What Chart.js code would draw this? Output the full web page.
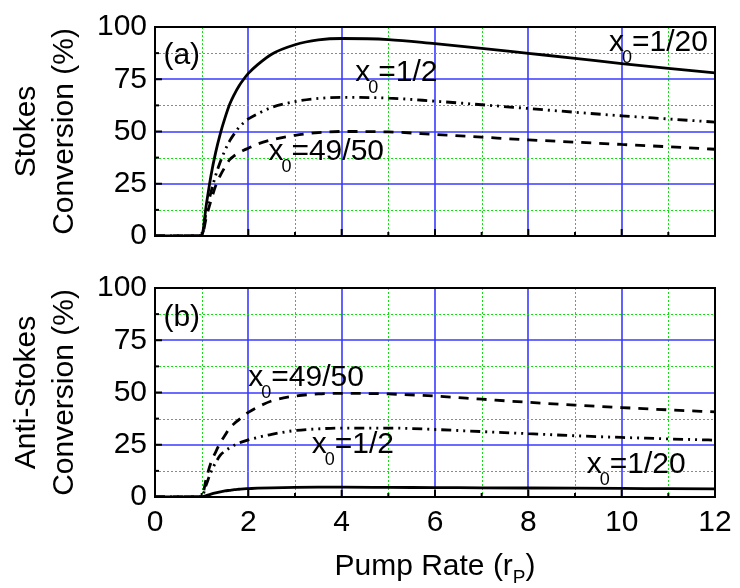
<!DOCTYPE html>
<html>
<head>
<meta charset="utf-8">
<script src="https://cdn.jsdelivr.net/npm/chart.js@4/dist/chart.umd.min.js"></script>
<style>
	html, body { margin: 0; padding: 0; background: #fff; }
	#wrap { position: relative; width: 740px; height: 588px; }
	#wrap canvas { position: absolute; left: 0; }
</style>
</head>
<body>
<div id="wrap">
	<canvas id="stokes" width="740" height="262" style="top:0"></canvas>
	<canvas id="anti" width="740" height="326" style="top:262px"></canvas>
</div>
<script>
// pump rate (x axis), shared by every curve
const pumpRate = [0, 1, 1.1, 1.2, 1.3, 1.4, 1.5, 1.6, 1.7, 1.8, 1.9, 2, 2.2, 2.5, 3, 3.5, 4, 5, 6, 7, 8, 9, 10, 11, 12];

// (a) Stokes conversion (%)
const stokes_1_20 = [0, 0, 15, 29, 40, 49, 56.5, 63, 67.8, 71.8, 75, 77.8, 82, 87, 91.5, 93.8, 94.5, 94, 92, 89.8, 87.4, 85, 82.5, 80.2, 78];
const stokes_1_2 = [0, 0, 12, 21, 29, 35.5, 41, 45.5, 49, 52, 54.2, 56, 58.5, 61.5, 64.3, 65.8, 66.3, 66, 64.5, 62.8, 61, 59.2, 57.5, 56, 54.5];
const stokes_49_50 = [0, 0, 9, 17, 24, 29, 33, 36.5, 38.4, 39.8, 41, 42, 44, 46, 48.2, 49.5, 50, 49.8, 48.6, 47.3, 46, 44.9, 43.8, 42.7, 41.5];

// (b) Anti-Stokes conversion (%)
const anti_1_20 = [0, 0, 0.7, 1.4, 2, 2.5, 2.9, 3.2, 3.5, 3.7, 3.9, 4, 4.2, 4.4, 4.6, 4.7, 4.7, 4.6, 4.5, 4.4, 4.3, 4.2, 4.1, 4, 3.9];
const anti_1_2 = [0, 0, 6, 12, 16.5, 20, 22, 23.5, 24.8, 25.8, 26.6, 27.3, 28.5, 30, 31.8, 32.6, 33, 33, 32.3, 31.3, 30.3, 29.3, 28.5, 27.8, 27.2];
const anti_49_50 = [0, 0, 9, 16.5, 21.5, 26, 29.5, 33, 35.2, 37, 38.9, 40.5, 43, 46, 48.3, 49.3, 49.6, 49.3, 48.3, 46.8, 45.3, 44, 42.8, 41.7, 40.7];

// curve annotations, anchored in data units (x, y = baseline)
const stokesNotes = [
	{ pre: '(a)', x: 0.18, y: 82.5 },
	{ pre: 'x', sub: '0', post: '=1/2', x: 4.29, y: 74 },
	{ pre: 'x', sub: '0', post: '=49/50', x: 2.43, y: 36.3 },
	{ pre: 'x', sub: '0', post: '=1/20', x: 9.73, y: 88.5 },
];
const antiNotes = [
	{ pre: '(b)', x: 0.18, y: 81.8 },
	{ pre: 'x', sub: '0', post: '=49/50', x: 2.0, y: 53 },
	{ pre: 'x', sub: '0', post: '=1/2', x: 3.36, y: 21.2 },
	{ pre: 'x', sub: '0', post: '=1/20', x: 9.25, y: 11.4 },
];

const FONT = "'Liberation Sans', Arial, sans-serif";
const BLUE = '#3a3aff';
const GREEN = '#10e010';

const toPoints = (ys) => pumpRate.map((x, i) => ({ x, y: ys[i] }));

const lineSet = (ys, dash) => ({
	data: toPoints(ys),
	borderColor: '#000',
	borderWidth: 2.8,
	borderDash: dash,
	pointRadius: 0,
	fill: false,
	cubicInterpolationMode: 'monotone',
});

// grid (blue major / green dotted minor), frame, inward ticks, annotations
const framePlugin = {
	id: 'frame',
	beforeDatasetsDraw(chart) {
		const { ctx, chartArea: a, scales } = chart;
		const xs = scales.x, ys = scales.y;
		ctx.save();
		const line = (x1, y1, x2, y2, major) => {
			ctx.strokeStyle = major ? BLUE : GREEN;
			ctx.lineWidth = major ? 1.6 : 1;
			ctx.setLineDash(major ? [] : [2, 2]);
			ctx.beginPath();
			ctx.moveTo(x1, y1);
			ctx.lineTo(x2, y2);
			ctx.stroke();
		};
		xs.ticks.forEach((t) => {
			const major = t.value % 2 === 0;
			const px = Math.round(xs.getPixelForValue(t.value)) + (major ? 0 : 0.5);
			line(px, a.top, px, a.bottom, major);
		});
		ys.ticks.forEach((t) => {
			const major = t.value % 25 === 0;
			const py = Math.round(ys.getPixelForValue(t.value)) + (major ? 0 : 0.5);
			line(a.left, py, a.right, py, major);
		});
		ctx.restore();
	},
	afterDraw(chart, args, opts) {
		const { ctx, chartArea: a, scales } = chart;
		const xs = scales.x, ys = scales.y;
		ctx.save();
		ctx.strokeStyle = '#000';
		ctx.lineWidth = 2;
		ctx.strokeRect(a.left, a.top, a.right - a.left, a.bottom - a.top);

		xs.ticks.forEach((t) => {
			const px = xs.getPixelForValue(t.value);
			const len = t.value % 2 === 0 ? 7 : 4;
			ctx.beginPath();
			ctx.moveTo(px, a.bottom);
			ctx.lineTo(px, a.bottom - len);
			ctx.stroke();
		});
		ys.ticks.forEach((t) => {
			const py = ys.getPixelForValue(t.value);
			const len = t.value % 25 === 0 ? 7 : 4;
			ctx.beginPath();
			ctx.moveTo(a.left, py);
			ctx.lineTo(a.left + len, py);
			ctx.stroke();
		});

		ctx.fillStyle = '#000';
		ctx.textBaseline = 'alphabetic';
		ctx.textAlign = 'left';
		(opts.notes || []).forEach((n) => {
			let px = xs.getPixelForValue(n.x);
			const py = ys.getPixelForValue(n.y);
			ctx.font = '30px ' + FONT;
			ctx.fillText(n.pre, px, py);
			px += ctx.measureText(n.pre).width;
			if (n.sub) {
				ctx.font = '18px ' + FONT;
				ctx.fillText(n.sub, px - 2, py + 12);
				px += ctx.measureText(n.sub).width - 2;
			}
			if (n.post) {
				ctx.font = '30px ' + FONT;
				ctx.fillText(n.post, px, py);
			}
		});

		if (opts.xTitle) {
			const cx = (a.left + a.right) / 2;
			const by = a.bottom + 78;
			ctx.font = '30px ' + FONT;
			const w1 = ctx.measureText(opts.xTitle[0]).width;
			const w3 = ctx.measureText(opts.xTitle[2]).width;
			ctx.font = '19px ' + FONT;
			const w2 = ctx.measureText(opts.xTitle[1]).width;
			let px = cx - (w1 + w2 + w3) / 2;
			ctx.font = '30px ' + FONT;
			ctx.fillText(opts.xTitle[0], px, by);
			px += w1;
			ctx.font = '19px ' + FONT;
			ctx.fillText(opts.xTitle[1], px, by + 8);
			px += w2;
			ctx.font = '30px ' + FONT;
			ctx.fillText(opts.xTitle[2], px, by);
		}
		ctx.restore();
	},
};

function makeChart(id, series, yTitle, notes, cfg) {
	return new Chart(document.getElementById(id), {
		type: 'line',
		data: {
			datasets: [
				lineSet(series[0], []),
				lineSet(series[1], [10, 5, 2, 5, 2, 5]),
				lineSet(series[2], [10, 8]),
			],
		},
		options: {
			responsive: false,
			animation: false,
			layout: { padding: { top: cfg.padTop, right: 25, left: 0, bottom: 0 } },
			plugins: {
				legend: { display: false },
				tooltip: { enabled: false },
				frame: { notes, xTitle: cfg.xTitle },
			},
			scales: {
				x: {
					type: 'linear',
					min: 0,
					max: 12,
					afterFit: (s) => { s.height = cfg.xHeight; },
					ticks: {
						display: cfg.showX,
						stepSize: 1,
						autoSkip: false,
						maxRotation: 0,
						padding: 8,
						color: '#000',
						font: { family: FONT, size: 30 },
						callback: (v) => (v % 2 === 0 ? String(v) : ''),
					},
					grid: { display: false, drawTicks: false },
					border: { display: false },
				},
				y: {
					min: 0,
					max: 100,
					afterFit: (s) => { s.width = 155; },
					ticks: {
						stepSize: 12.5,
						autoSkip: false,
						padding: 8,
						color: '#000',
						font: { family: FONT, size: 30 },
						callback: (v) => (v % 25 === 0 ? String(v) : ''),
					},
					grid: { display: false, drawTicks: false },
					border: { display: false },
					title: {
						display: true,
						text: yTitle,
						color: '#000',
						font: { family: FONT, size: 30, lineHeight: 38 / 30 },
						padding: { top: 8, bottom: 0 },
					},
				},
			},
		},
		plugins: [framePlugin],
	});
}

makeChart('stokes', [stokes_1_20, stokes_1_2, stokes_49_50], ['Stokes', 'Conversion (%)'], stokesNotes,
	{ padTop: 27, xHeight: 16, showX: false });
makeChart('anti', [anti_1_20, anti_1_2, anti_49_50], ['Anti-Stokes', 'Conversion (%)'], antiNotes,
	{ padTop: 15, xHeight: 91, showX: true, xTitle: ['Pump Rate (r', 'P', ')'] });
</script>
</body>
</html>
